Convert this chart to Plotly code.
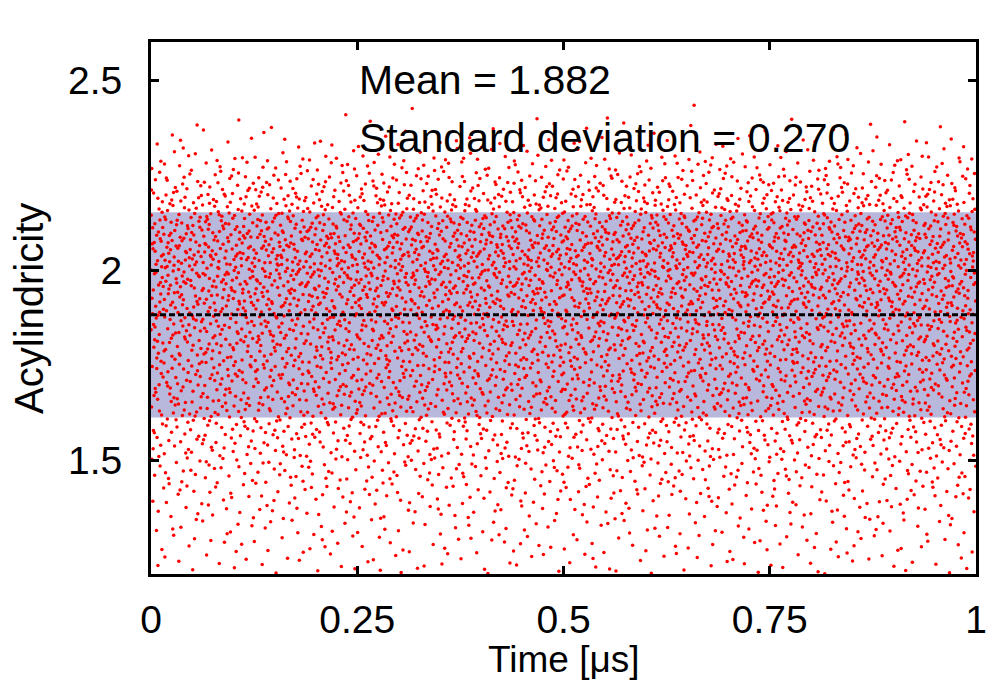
import plotly.graph_objects as go

# ---- data ----
# density profile of the point cloud: count of visible points per 0.05-wide band of y (whole time range)
bin_lower_edges = [1.20, 1.25, 1.30, 1.35, 1.40, 1.45, 1.50, 1.55, 1.60, 1.65, 1.70, 1.75,
                   1.80, 1.85, 1.90, 1.95, 2.00, 2.05, 2.10, 2.15, 2.20, 2.25, 2.30, 2.35, 2.40]
bin_counts = [60, 70, 80, 100, 120, 150, 180, 215, 250, 270, 285, 300,
              320, 340, 370, 410, 430, 420, 370, 280, 210, 140, 65, 25, 5]
bin_width = 0.05
time_start, time_end = 0.0, 1.0

mean_value = 1.882
std_value = 0.270

x_ticks = [0, 0.25, 0.5, 0.75, 1]
x_tick_labels = ["0", "0.25", "0.5", "0.75", "1"]
y_ticks = [1.5, 2.0, 2.5]
y_tick_labels = ["1.5", "2", "2.5"]


# ---- spread the read density evenly (deterministic Halton layout, no random numbers) ----
def halton(i, base):
    f, r = 1.0, 0.0
    while i > 0:
        f /= base
        r += f * (i % base)
        i //= base
    return r


total = sum(bin_counts)
cum = [0]
for c in bin_counts:
    cum.append(cum[-1] + c)


def inv_cdf(v):
    t = v * total
    for j, c in enumerate(bin_counts):
        if t <= cum[j + 1]:
            return bin_lower_edges[j] + bin_width * (t - cum[j]) / c
    return bin_lower_edges[-1] + bin_width


xs, ys = [], []
for i in range(1, total + 1):
    xs.append(time_start + (time_end - time_start) * halton(i, 2))
    ys.append(inv_cdf(halton(i, 3)))

font = "Liberation Sans, Arial, Helvetica, sans-serif"

fig = go.Figure()
fig.add_trace(go.Scatter(x=xs, y=ys, mode="markers",
                         marker=dict(color="#ff0000", size=3.5, line=dict(width=0)),
                         hoverinfo="skip", showlegend=False))
fig.add_trace(go.Scatter(x=[time_start, time_end], y=[mean_value, mean_value], mode="lines",
                         line=dict(color="black", width=3, dash="6px,3px"),
                         hoverinfo="skip", showlegend=False))

fig.add_shape(type="rect", xref="x", yref="y", x0=time_start, x1=time_end,
              y0=mean_value - std_value, y1=mean_value + std_value,
              fillcolor="#b8b8dc", line=dict(width=0), layer="below")

fig.add_annotation(x=0.25, y=2.5, xref="x", yref="y", text=f"Mean = {mean_value:.3f}",
                   showarrow=False, xanchor="left", yanchor="middle",
                   font=dict(family=font, size=41, color="black"))
fig.add_annotation(x=0.25, y=2.347, xref="x", yref="y", text=f"Standard deviation = {std_value:.3f}",
                   showarrow=False, xanchor="left", yanchor="middle",
                   font=dict(family=font, size=41, color="black"))

# axis titles
fig.add_annotation(x=0.5, y=-0.16, xref="paper", yref="paper", text="Time [μs]",
                   showarrow=False, xanchor="center", yanchor="middle",
                   font=dict(family=font, size=37, color="black"))
fig.add_annotation(x=-0.148, y=0.5, xref="paper", yref="paper", text="Acylindricity",
                   showarrow=False, xanchor="center", yanchor="middle", textangle=-90,
                   font=dict(family=font, size=40, color="black"))

axis_common = dict(showgrid=False, zeroline=False, showline=True, linecolor="black", linewidth=3,
                   mirror="ticks", ticks="inside", ticklen=8, tickwidth=3, tickcolor="black",
                   tickfont=dict(family=font, size=39, color="black"))

fig.update_layout(
    width=1000, height=700,
    margin=dict(l=143, r=32, t=34, b=134),
    paper_bgcolor="white", plot_bgcolor="white",
    xaxis=dict(range=[time_start, time_end], tickvals=x_ticks, ticktext=x_tick_labels,
               ticklabelstandoff=9, **axis_common),
    yaxis=dict(range=[1.2, 2.6], tickvals=y_ticks, ticktext=y_tick_labels,
               ticklabelstandoff=18, **axis_common),
)

fig.write_html("out.html")
